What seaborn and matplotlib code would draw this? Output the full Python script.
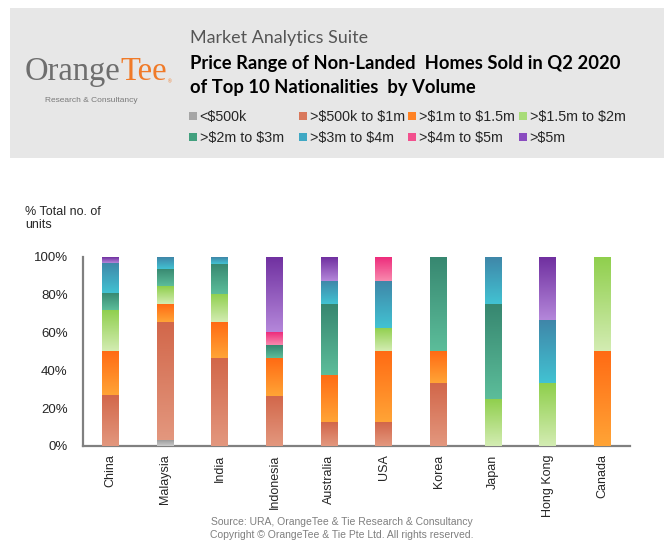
import numpy as np
import pandas as pd
import matplotlib
matplotlib.use("Agg")
import matplotlib.pyplot as plt
import matplotlib.colors as mcolors
from matplotlib.patches import Rectangle, Patch
from matplotlib.ticker import PercentFormatter
import seaborn as sns

# --- datos (fracción de unidades por rango de precio) ---
countries = ["China", "Malaysia", "India", "Indonesia", "Australia",
             "USA", "Korea", "Japan", "Hong Kong", "Canada"]
bands = ["<$500k", ">$500k to $1m", ">$1m to $1.5m", ">$1.5m to $2m",
         ">$2m to $3m", ">$3m to $4m", ">$4m to $5m", ">$5m"]

under_500k = [0, 0.031, 0, 0, 0, 0, 0, 0, 0, 0]
k500_to_1m = [0.27, 0.625, 0.464, 0.267, 0.125, 0.125, 0.333, 0, 0, 0]
m1_to_1_5m = [0.23, 0.094, 0.19, 0.20, 0.25, 0.375, 0.167, 0, 0, 0.5]
m1_5_to_2m = [0.22, 0.094, 0.15, 0, 0, 0.125, 0, 0.25, 0.333, 0.5]
m2_to_3m = [0.09, 0.094, 0.161, 0.067, 0.375, 0, 0.5, 0.5, 0, 0]
m3_to_4m = [0.16, 0.062, 0.035, 0, 0.125, 0.25, 0, 0.25, 0.334, 0]
m4_to_5m = [0, 0, 0, 0.067, 0, 0.125, 0, 0, 0, 0]
over_5m = [0.03, 0, 0, 0.40, 0.125, 0, 0, 0, 0.333, 0]

# colores: (arriba oscuro, abajo claro) para el degradado
grad_colors = {
    "<$500k": ("#9c9c9c", "#cacaca"),
    ">$500k to $1m": ("#d2674a", "#e3977e"),
    ">$1m to $1.5m": ("#ff6b14", "#ffa436"),
    ">$1.5m to $2m": ("#8fcf4c", "#d3ecb2"),
    ">$2m to $3m": ("#378770", "#5cbd9a"),
    ">$3m to $4m": ("#3f86a8", "#42c2d2"),
    ">$4m to $5m": ("#ee2c7c", "#f88aae"),
    ">$5m": ("#7030a0", "#b487da"),
}
legend_colors = ["#a6a6a6", "#d9785c", "#ff8224", "#a8dc78",
                 "#42a07e", "#3fa8c4", "#f2508e", "#8a4cc0"]

values = [under_500k, k500_to_1m, m1_to_1_5m, m1_5_to_2m,
          m2_to_3m, m3_to_4m, m4_to_5m, over_5m]
rows = []
for band, vals in zip(bands, values):
    for c, v in zip(countries, vals):
        rows.append({"Nationality": c, "Band": band, "Share": v})
df = pd.DataFrame(rows)

# --- estilo ---
sns.set_style("white")
plt.rcParams["font.family"] = ["Liberation Sans", "DejaVu Sans"]

fig = plt.figure(figsize=(6.64, 5.42), dpi=100)
H = 542.0
W = 664.0

# cabecera gris
fig.patches.append(Rectangle((10 / W, 1 - 158 / H), 1, 150 / H,
                             transform=fig.transFigure, facecolor="#e7e7e7",
                             edgecolor="none", zorder=0))

ax = fig.add_axes([83 / W, 1 - 446 / H, 547 / W, 189 / H])

base_colors = {b: grad_colors[b][0] for b in bands}
sns.histplot(data=df, x="Nationality", hue="Band", weights="Share",
             hue_order=bands[::-1], multiple="stack", discrete=True,
             shrink=0.31, palette=base_colors, alpha=1, linewidth=0,
             legend=False, ax=ax)

# degradado vertical en cada segmento
band_by_rgb = {mcolors.to_hex(grad_colors[b][0]): b for b in bands}
for p in list(ax.patches):
    x, y = p.get_x(), p.get_y()
    w, h = p.get_width(), p.get_height()
    if h <= 1e-6:
        continue
    band = band_by_rgb.get(mcolors.to_hex(p.get_facecolor()[:3]))
    if band is None:
        continue
    top = np.array(mcolors.to_rgb(grad_colors[band][0]))
    bot = np.array(mcolors.to_rgb(grad_colors[band][1]))
    t = np.linspace(0, 1, 64)[:, None]
    img = (top * (1 - t) + bot * t)[:, None, :]
    ax.imshow(img, extent=[x, x + w, y, y + h], aspect="auto",
              origin="upper", zorder=3, interpolation="bilinear")

ax.set_xlim(-0.5, 9.5)
ax.set_ylim(0, 1)
ax.yaxis.set_major_formatter(PercentFormatter(1.0, decimals=0))
ax.set_yticks(np.arange(0, 1.01, 0.2))
ax.set_xticks(range(len(countries)))
ax.set_xticklabels(countries, rotation=90, va="top")
ax.tick_params(axis="both", length=0, labelsize=9.5, colors="#262626")
ax.tick_params(axis="x", labelsize=9, pad=6)
ax.tick_params(axis="y", pad=11)
ax.set_xlabel("")
ax.set_ylabel("")
for s in ["top", "right"]:
    ax.spines[s].set_visible(False)
for s in ["left", "bottom"]:
    ax.spines[s].set_color("#808080")
    ax.spines[s].set_linewidth(1.6)

fig.text(25 / W, 1 - 206 / H, "% Total no. of\nunits", fontsize=9,
         color="#262626", va="top", ha="left", linespacing=1.15)

# logo
t_orange = fig.text(25 / W, 1 - 72 / H, "Orange", family="Liberation Serif",
                    fontsize=23.5, color="#6e6e6e", va="center", ha="left")
fig.canvas.draw()
bb = t_orange.get_window_extent()
fig.text(bb.x1 / W, 1 - 72 / H, "Tee", family="Liberation Serif",
         fontsize=23.5, color="#f07a28", va="center", ha="left")
fig.text(168 / W, 1 - 82 / H, "®", fontsize=3.5, color="#f07a28",
         va="center", ha="left")
fig.text(91 / W, 1 - 101 / H, "Research & Consultancy", fontsize=6.0,
         color="#7a7a7a", va="center", ha="center")

# títulos
fig.text(190 / W, 1 - 38 / H, "Market Analytics Suite", family="Lato",
         fontsize=12.9, color="#555555", va="center", ha="left")
fig.text(190 / W, 1 - 64 / H, "Price Range of Non-Landed  Homes Sold in Q2 2020",
         family="Lato", fontsize=13.2, fontweight="bold", color="#000000",
         va="center", ha="left")
fig.text(190 / W, 1 - 88 / H, "of Top 10 Nationalities  by Volume",
         family="Lato", fontsize=13.2, fontweight="bold", color="#000000",
         va="center", ha="left")

# leyenda: una columna por leyenda para fijar posiciones
col_x = [189, 299, 408, 519]
for ci, cx in enumerate(col_x):
    idx = [ci, ci + 4]
    handles = [Patch(facecolor=legend_colors[i], edgecolor="none") for i in idx]
    labels = [bands[i].replace("$", r"\$") for i in idx]
    leg = fig.legend(handles, labels, loc="upper left",
                     bbox_to_anchor=(cx / W, 1 - 110 / H), ncol=1,
                     frameon=False, fontsize=10.3, handlelength=0.55,
                     handleheight=0.55, handletextpad=0.2, labelspacing=0.5,
                     borderaxespad=0, borderpad=0)
    for t in leg.get_texts():
        t.set_color("#262626")

# pie
fig.text(342 / W, 1 - 522 / H,
         "Source: URA, OrangeTee & Tie Research & Consultancy",
         fontsize=7.5, color="#7f7f7f", ha="center", va="center")
fig.text(342 / W, 1 - 535 / H,
         "Copyright © OrangeTee & Tie Pte Ltd. All rights reserved.",
         fontsize=7.5, color="#7f7f7f", ha="center", va="center")

fig.savefig("out.png", dpi=100, facecolor="white")
